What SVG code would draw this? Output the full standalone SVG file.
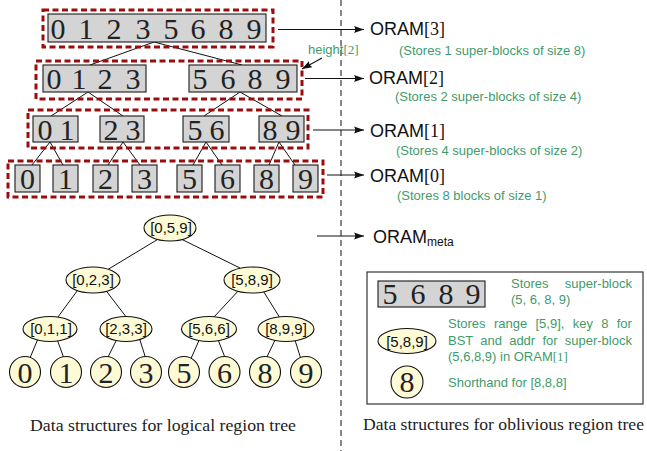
<svg xmlns="http://www.w3.org/2000/svg" width="647" height="451" viewBox="0 0 647 451">
<style>
.dash{fill:none;stroke:#9b0d0d;stroke-width:3;stroke-dasharray:6 3.5}
.blk{fill:#d4d4d4;stroke:#1a1a1a;stroke-width:1.1}
.dg{font-family:"Liberation Serif","DejaVu Serif",serif;font-size:30px;fill:#222;text-anchor:middle}
.ln{stroke:#111;stroke-width:1;fill:none}
.arr{stroke:#111;stroke-width:1.1;fill:none;marker-end:url(#ah)}
.oram{font-family:"Liberation Sans","DejaVu Sans",sans-serif;font-size:18px;fill:#111}
.ser{font-family:"Liberation Serif","DejaVu Serif",serif}
.gr{font-family:"Liberation Sans","DejaVu Sans",sans-serif;font-size:13px;fill:#3f9b6b}
.el{fill:#fdfbd6;stroke:#111;stroke-width:1.1}
.et{font-family:"Liberation Sans","DejaVu Sans",sans-serif;font-size:15px;fill:#111;text-anchor:middle}
.cap{font-family:"Liberation Serif","DejaVu Serif",serif;font-size:17.5px;fill:#222}
</style>
<defs>
<marker id="ah" markerUnits="userSpaceOnUse" markerWidth="11" markerHeight="8" refX="10" refY="4" orient="auto">
<path d="M0,0.5 L10,4 L0,7.5 Q2.5,4 0,0.5 z" fill="#111"/>
</marker>
</defs>
<rect width="647" height="451" fill="#fff"/>

<line x1="341" y1="0" x2="341" y2="451" stroke="#111" stroke-width="1" stroke-dasharray="6 4"/>

<g id="connectors">
<line class="ln" x1="154" y1="42" x2="90" y2="65"/>
<line class="ln" x1="154" y1="42" x2="242" y2="65"/>
<line class="ln" x1="88" y1="92" x2="51" y2="116"/>
<line class="ln" x1="88" y1="92" x2="123" y2="116"/>
<line class="ln" x1="240" y1="92" x2="204" y2="116"/>
<line class="ln" x1="240" y1="92" x2="282" y2="116"/>
<line class="ln" x1="50" y1="142" x2="32" y2="165"/>
<line class="ln" x1="50" y1="142" x2="63" y2="165"/>
<line class="ln" x1="123" y1="142" x2="108" y2="165"/>
<line class="ln" x1="123" y1="142" x2="140" y2="165"/>
<line class="ln" x1="206" y1="142" x2="193" y2="165"/>
<line class="ln" x1="206" y1="142" x2="222" y2="165"/>
<line class="ln" x1="279" y1="142" x2="269" y2="165"/>
<line class="ln" x1="279" y1="142" x2="295" y2="165"/>
<line class="ln" x1="160" y1="238" x2="107" y2="270"/>
<line class="ln" x1="179" y1="238" x2="240" y2="268"/>
<line class="ln" x1="80" y1="287" x2="55" y2="321"/>
<line class="ln" x1="104" y1="288" x2="127" y2="318"/>
<line class="ln" x1="241" y1="288" x2="213" y2="318"/>
<line class="ln" x1="262" y1="289" x2="280" y2="318"/>
<line class="ln" x1="39.5" y1="335" x2="27.5" y2="364"/>
<line class="ln" x1="55.5" y1="335" x2="66" y2="364"/>
<line class="ln" x1="118" y1="337" x2="105" y2="363"/>
<line class="ln" x1="139" y1="337" x2="147.5" y2="364"/>
<line class="ln" x1="200.5" y1="337" x2="189" y2="363"/>
<line class="ln" x1="217" y1="337" x2="227.5" y2="364"/>
<line class="ln" x1="276.5" y1="337" x2="264" y2="363"/>
<line class="ln" x1="294" y1="337" x2="302.5" y2="364"/>
<line class="arr" x1="278" y1="29.5" x2="364" y2="29.5"/>
<line class="arr" x1="305" y1="78.5" x2="364" y2="78.5"/>
<line class="arr" x1="313" y1="130" x2="364" y2="130"/>
<line class="arr" x1="327" y1="175" x2="364" y2="175"/>
<line class="arr" x1="317" y1="236" x2="364" y2="236"/>
<line class="arr" x1="322" y1="58" x2="302" y2="69"/>
</g>

<g id="level3">
<rect class="dash" x="43" y="10" width="230" height="37"/>
<rect class="blk" x="48" y="14" width="218" height="28"/>
<text class="dg" y="38.5"><tspan x="58">0</tspan><tspan x="86">1</tspan><tspan x="114">2</tspan><tspan x="143">3</tspan><tspan x="171">5</tspan><tspan x="198">6</tspan><tspan x="226">8</tspan><tspan x="254">9</tspan></text>
</g>

<g id="level2">
<rect class="dash" x="36" y="61" width="266" height="38"/>
<rect class="blk" x="43" y="65" width="103" height="27"/>
<rect class="blk" x="189" y="65" width="108" height="27"/>
<text class="dg" y="88.5"><tspan x="54">0</tspan><tspan x="79">1</tspan><tspan x="105">2</tspan><tspan x="133">3</tspan><tspan x="200">5</tspan><tspan x="228">6</tspan><tspan x="255">8</tspan><tspan x="283">9</tspan></text>
</g>

<g id="level1">
<rect class="dash" x="28" y="110" width="280" height="38"/>
<rect class="blk" x="33" y="116" width="45" height="26"/>
<rect class="blk" x="100" y="116" width="44" height="26"/>
<rect class="blk" x="183" y="116" width="46" height="26"/>
<rect class="blk" x="259" y="116" width="45" height="26"/>
<text class="dg" y="139.5"><tspan x="45">0</tspan><tspan x="67">1</tspan><tspan x="111">2</tspan><tspan x="133">3</tspan><tspan x="195">5</tspan><tspan x="217">6</tspan><tspan x="270">8</tspan><tspan x="293">9</tspan></text>
</g>

<g id="level0">
<rect class="dash" x="8" y="161" width="315" height="36"/>
<rect class="blk" x="15" y="165" width="25" height="27"/>
<rect class="blk" x="53" y="165" width="25" height="27"/>
<rect class="blk" x="93" y="165" width="25" height="27"/>
<rect class="blk" x="132" y="165" width="25" height="27"/>
<rect class="blk" x="177" y="165" width="25" height="27"/>
<rect class="blk" x="215" y="165" width="25" height="27"/>
<rect class="blk" x="254" y="165" width="25" height="27"/>
<rect class="blk" x="293" y="165" width="25" height="27"/>
<text class="dg" y="188.5"><tspan x="27.5">0</tspan><tspan x="65.5">1</tspan><tspan x="105.5">2</tspan><tspan x="144.5">3</tspan><tspan x="189.5">5</tspan><tspan x="227.5">6</tspan><tspan x="266.5">8</tspan><tspan x="305.5">9</tspan></text>
</g>

<g id="oram-labels">
<text class="oram" x="370" y="35">ORAM<tspan class="ser">[3]</tspan></text>
<text class="oram" x="369" y="84">ORAM<tspan class="ser">[2]</tspan></text>
<text class="oram" x="370" y="137">ORAM<tspan class="ser">[1]</tspan></text>
<text class="oram" x="370" y="182">ORAM<tspan class="ser">[0]</tspan></text>
<text class="oram" x="373" y="243">ORAM<tspan font-size="12" dy="3">meta</tspan></text>
<text class="gr" x="399" y="55">(Stores 1 super-blocks of size 8)</text>
<text class="gr" x="395" y="101">(Stores 2 super-blocks of size 4)</text>
<text class="gr" x="396" y="155">(Stores 4 super-blocks of size 2)</text>
<text class="gr" x="397" y="200">(Stores 8 blocks of size 1)</text>
<text class="gr" x="308" y="54" font-size="12.5">height<tspan class="ser">[2]</tspan></text>
</g>

<g id="tree">
<g id="n059"><ellipse class="el" cx="170" cy="228" rx="26" ry="13"/><text class="et" x="171" y="233">[0,5,9]</text></g>
<g id="n023"><ellipse class="el" cx="93" cy="280" rx="27" ry="13"/><text class="et" x="93" y="285">[0,2,3]</text></g>
<g id="n589"><ellipse class="el" cx="252" cy="280" rx="28" ry="13"/><text class="et" x="252" y="285">[5,8,9]</text></g>
<g id="n011"><ellipse class="el" cx="50" cy="329" rx="27" ry="12.5"/><text class="et" x="51" y="334">[0,1,1]</text></g>
<g id="n233"><ellipse class="el" cx="126" cy="329" rx="26" ry="12.5"/><text class="et" x="126" y="334">[2,3,3]</text></g>
<g id="n566"><ellipse class="el" cx="209" cy="329" rx="27.5" ry="12.5"/><text class="et" x="209" y="334">[5,6,6]</text></g>
<g id="n899"><ellipse class="el" cx="286" cy="329" rx="28" ry="12.5"/><text class="et" x="286" y="334">[8,9,9]</text></g>
<g id="leaf0"><circle class="el" cx="25" cy="372" r="15.5"/><text class="dg" x="25" y="382.5">0</text></g>
<g id="leaf1"><circle class="el" cx="66" cy="372" r="15.5"/><text class="dg" x="66" y="382.5">1</text></g>
<g id="leaf2"><circle class="el" cx="106" cy="372" r="15.5"/><text class="dg" x="106" y="382.5">2</text></g>
<g id="leaf3"><circle class="el" cx="146" cy="372" r="15.5"/><text class="dg" x="146" y="382.5">3</text></g>
<g id="leaf5"><circle class="el" cx="184" cy="372" r="15.5"/><text class="dg" x="184" y="382.5">5</text></g>
<g id="leaf6"><circle class="el" cx="224.5" cy="372" r="15.5"/><text class="dg" x="224.5" y="382.5">6</text></g>
<g id="leaf8"><circle class="el" cx="265" cy="372" r="15.5"/><text class="dg" x="265" y="382.5">8</text></g>
<g id="leaf9"><circle class="el" cx="306" cy="372" r="15.5"/><text class="dg" x="306" y="382.5">9</text></g>
</g>

<g id="legend">
<rect x="367" y="272" width="276" height="132" fill="#fff" stroke="#333" stroke-width="1.2"/>
<rect class="blk" x="378" y="281" width="107" height="26"/>
<text class="dg" y="303.5" font-size="28"><tspan x="390">5</tspan><tspan x="418">6</tspan><tspan x="446">8</tspan><tspan x="473">9</tspan></text>
<text class="gr" x="511" y="288" word-spacing="12.6">Stores super-block</text>
<text class="gr" x="511" y="304">(5, 6, 8, 9)</text>
<ellipse class="el" cx="407" cy="341" rx="29" ry="12.5"/>
<text class="et" x="407" y="346.5" font-size="16">[5,8,9]</text>
<text class="gr" x="448" y="328" word-spacing="4.7">Stores range [5,9], key 8 for</text>
<text class="gr" x="448" y="345" word-spacing="3.6">BST and addr for super-block</text>
<text class="gr" x="448" y="361">(5,6,8,9) in ORAM<tspan class="ser">[1]</tspan></text>
<circle class="el" cx="407" cy="382" r="16"/>
<text class="dg" x="407" y="391.5" font-size="28">8</text>
<text class="gr" x="448" y="387">Shorthand for [8,8,8]</text>
</g>

<g id="captions">
<text class="cap" x="30" y="431" textLength="266" lengthAdjust="spacingAndGlyphs">Data structures for logical region tree</text>
<text class="cap" x="363" y="430" font-size="16.5" textLength="281" lengthAdjust="spacingAndGlyphs">Data structures for oblivious region tree</text>
</g>
</svg>
